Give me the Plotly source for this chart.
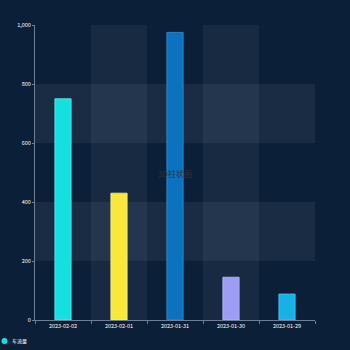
import plotly.graph_objects as go

categories = ["2023-02-02", "2023-02-01", "2023-01-31", "2023-01-30", "2023-01-29"]
values = [750, 430, 975, 145, 88]
colors = ["#14E0E0", "#F9E83C", "#0A72BE", "#9D9DF6", "#17B1E7"]
edge_colors = ["#5EF0F0", "#FDF27A", "#3A93D6", "#BDBBFB", "#55C8F0"]
y_ticks = [0, 200, 400, 600, 800, 1000]
series_name = "车流量"
title_text = "3D柱状图"

bg = "#0B1F38"
W, H = 350, 350
ml, mr, mt, mb = 35, 35, 25, 30
pw, ph = W - ml - mr, H - mt - mb


def px_to_paper(x, y):
    return (x - ml) / pw, (H - mb - y) / ph


fig = go.Figure()
fig.add_trace(go.Bar(
    x=categories, y=values, width=0.29,
    marker=dict(color=colors, line=dict(color=edge_colors, width=0.8)),
    showlegend=False, name=series_name,
))

shapes = []
for i in [1, 3]:
    shapes.append(dict(type="rect", xref="x", yref="paper", x0=i - 0.5, x1=i + 0.5,
                       y0=0, y1=1, fillcolor="rgba(255,255,255,0.05)", line=dict(width=0),
                       layer="below"))
for lo, hi in [(200, 400), (600, 800)]:
    shapes.append(dict(type="rect", xref="paper", yref="y", x0=0, x1=1,
                       y0=lo, y1=hi, fillcolor="rgba(255,255,255,0.06)", line=dict(width=0),
                       layer="below"))

# legend marker (circle) drawn manually
cx0, cy0 = px_to_paper(1.5, 338)
cx1, cy1 = px_to_paper(7.5, 344)
shapes.append(dict(type="circle", xref="paper", yref="paper", x0=cx0, x1=cx1, y0=cy1, y1=cy0,
                   fillcolor=colors[0], line=dict(width=0)))
lx, ly = px_to_paper(10, 341)

fig.update_layout(
    width=W, height=H,
    paper_bgcolor=bg, plot_bgcolor=bg,
    margin=dict(l=ml, r=mr, t=mt, b=mb, autoexpand=False),
    font=dict(family="Noto Sans CJK SC, Noto Sans, sans-serif", color="#FFFFFF", size=6),
    shapes=shapes,
    showlegend=False,
    annotations=[
        dict(text=title_text, xref="paper", yref="paper", x=0.5, y=0.498,
             showarrow=False, font=dict(size=8, color="#333333")),
        dict(text=series_name, xref="paper", yref="paper", x=lx, y=ly, xanchor="left",
             yanchor="middle", showarrow=False, font=dict(size=5, color="#FFFFFF")),
    ],
)
fig.update_xaxes(
    type="category", showgrid=False, showline=True, linecolor="#6E7F95", linewidth=1,
    ticks="outside", ticklen=3, tickcolor="#6E7F95", tickson="boundaries",
    tickfont=dict(size=5.5, color="#FFFFFF"), zeroline=False, automargin=False,
)
fig.update_yaxes(
    range=[0, 1000], tickvals=y_ticks, tickformat=",", showgrid=False,
    showline=True, linecolor="#6E7F95", linewidth=1, ticks="outside", ticklen=2,
    tickcolor="#6E7F95", tickfont=dict(size=5.5, color="#FFFFFF"), zeroline=False,
    automargin=False,
)

fig.write_html("out.html")
